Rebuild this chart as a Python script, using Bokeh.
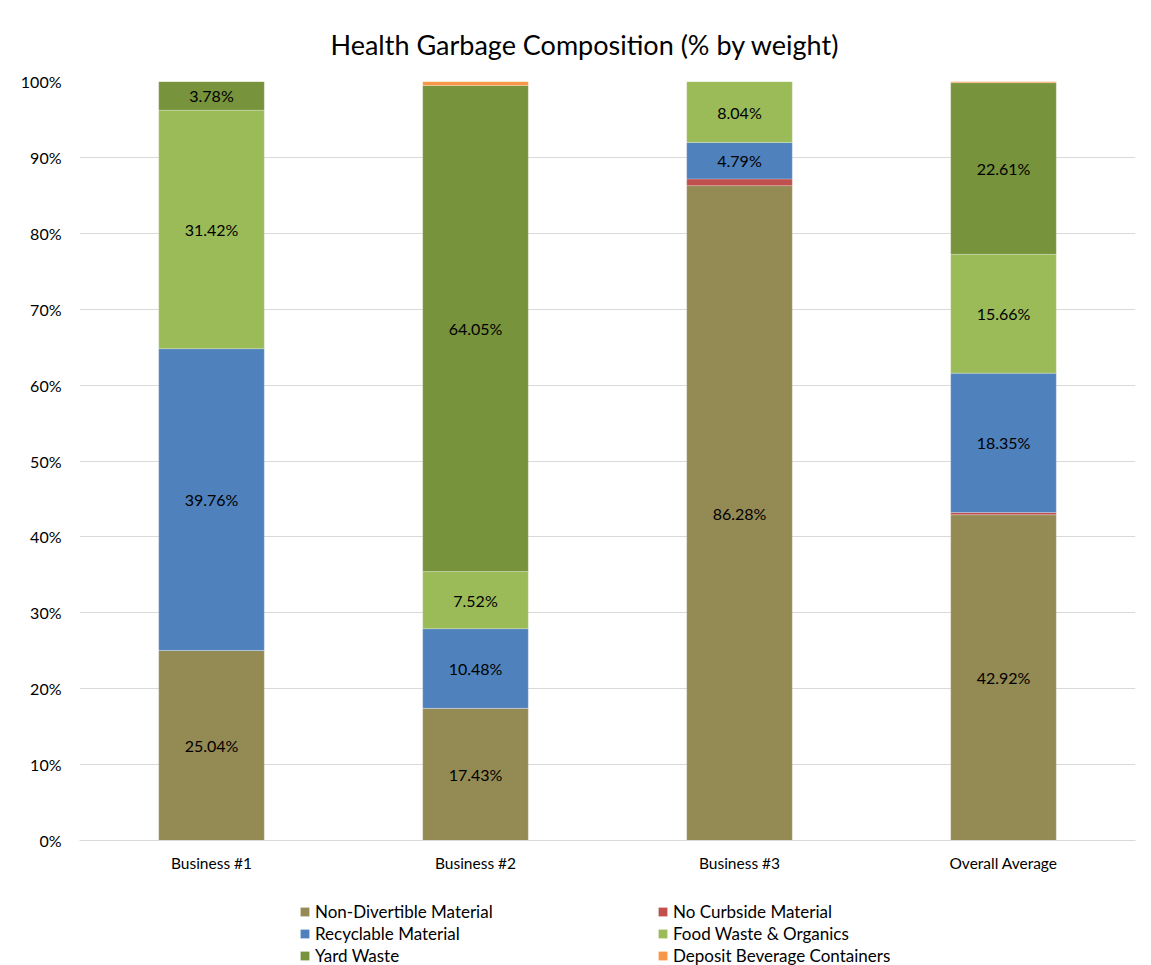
from bokeh.plotting import figure
from bokeh.models import ColumnDataSource, Legend, LegendItem, PrintfTickFormatter, FixedTicker, Range1d
from bokeh.layouts import column
from bokeh.core.properties import value
from bokeh.embed import file_html
from bokeh.resources import INLINE

businesses = ["Business #1", "Business #2", "Business #3", "Overall Average"]
series = ["Non-Divertible Material", "No Curbside Material", "Recyclable Material",
          "Food Waste & Organics", "Yard Waste", "Deposit Beverage Containers"]
non_divertible = [25.04, 17.43, 86.28, 42.92]
no_curbside = [0.0, 0.0, 0.89, 0.30]
recyclable = [39.76, 10.48, 4.79, 18.35]
food_waste = [31.42, 7.52, 8.04, 15.66]
yard_waste = [3.78, 64.05, 0.0, 22.61]
deposit = [0.0, 0.52, 0.0, 0.16]
colors = ["#948A54", "#C0504D", "#4F81BD", "#9BBB59", "#77933C", "#F79646"]
y_ticks = [0, 10, 20, 30, 40, 50, 60, 70, 80, 90, 100]

FONT = "Lato"
keys = ["nd", "nc", "rc", "fw", "yw", "dp"]
vals = [non_divertible, no_curbside, recyclable, food_waste, yard_waste, deposit]
data = {"x": businesses}
for k, v in zip(keys, vals):
    data[k] = v
src = ColumnDataSource(data)

p = figure(x_range=businesses, y_range=(0, 100), width=1151, height=890,
           output_backend="svg", toolbar_location=None,
           min_border_left=79, min_border_right=16, min_border_top=81, min_border_bottom=50)

renderers = p.vbar_stack(keys, x="x", width=0.4, source=src, fill_color=colors,
                         line_color="white", line_width=0.6, line_alpha=0.4)

# data labels
lx, ly, lt = [], [], []
for i, b in enumerate(businesses):
    base = 0.0
    for v in vals:
        val = v[i]
        if val >= 2:
            lx.append(b)
            ly.append(base + val / 2)
            lt.append(f"{val:.2f}%")
        base += val
p.text(x=lx, y=ly, text=lt, text_align="center", text_baseline="middle",
       text_font=value(FONT), text_font_size="16px", text_color="#000000")

p.title.text = "Health Garbage Composition (% by weight)"
p.title.align = "left"
p.title.offset = 251
p.title.text_font = FONT
p.title.text_font_size = "27px"
p.title.text_font_style = "normal"
p.title.text_color = "#000000"
p.title.standoff = 41

p.yaxis.ticker = FixedTicker(ticks=y_ticks)
p.yaxis.formatter = PrintfTickFormatter(format="%d%%")
p.yaxis.axis_line_color = None
p.yaxis.major_tick_line_color = None
p.yaxis.minor_tick_line_color = None
p.yaxis.major_tick_out = 0
p.yaxis.minor_tick_out = 0
p.yaxis.major_label_text_font = FONT
p.yaxis.major_label_text_font_size = "16px"
p.yaxis.major_label_text_color = "#000000"
p.yaxis.major_label_standoff = 18

p.xaxis.axis_line_color = "#D9D9D9"
p.xaxis.major_tick_line_color = None
p.xaxis.minor_tick_line_color = None
p.xaxis.major_tick_out = 0
p.xaxis.minor_tick_out = 0
p.xaxis.major_label_text_font = FONT
p.xaxis.major_label_text_font_size = "15.5px"
p.xaxis.major_label_text_color = "#000000"
p.xaxis.major_label_standoff = 13

p.xgrid.grid_line_color = None
p.ygrid.grid_line_color = "#D9D9D9"
p.ygrid.ticker = FixedTicker(ticks=y_ticks)
p.outline_line_color = None

# legend in a strip below the chart (items listed column by column)
lg = figure(width=1151, height=75, x_range=Range1d(0, 1), y_range=Range1d(0, 1),
            output_backend="svg", toolbar_location=None, x_axis_type=None, y_axis_type=None,
            min_border_left=0, min_border_right=0, min_border_top=0, min_border_bottom=0)
lg.grid.visible = False
lg.outline_line_color = None
legend_renderers = {}
for s, c in zip(series, colors):
    d = ColumnDataSource(dict(x=[0.5], top=[0.0]))
    legend_renderers[s] = lg.vbar(x="x", top="top", bottom=0.0, width=0.0, source=d,
                                  fill_color=c, line_color=None)
order = [0, 2, 4, 1, 3, 5]
items = [LegendItem(label=series[i], renderers=[legend_renderers[series[i]]]) for i in order]
legend = Legend(items=items, ncols=2, location=(220, -1),
                label_text_font=FONT, label_text_font_size="17px", label_text_color="#000000",
                glyph_width=11, glyph_height=11, label_standoff=5, label_height=20,
                label_width=341, spacing=1, padding=0, margin=0,
                border_line_color=None, background_fill_alpha=0)
lg.add_layout(legend, "center")

open("out.html", "w").write(file_html(column(p, lg, spacing=0), INLINE))
